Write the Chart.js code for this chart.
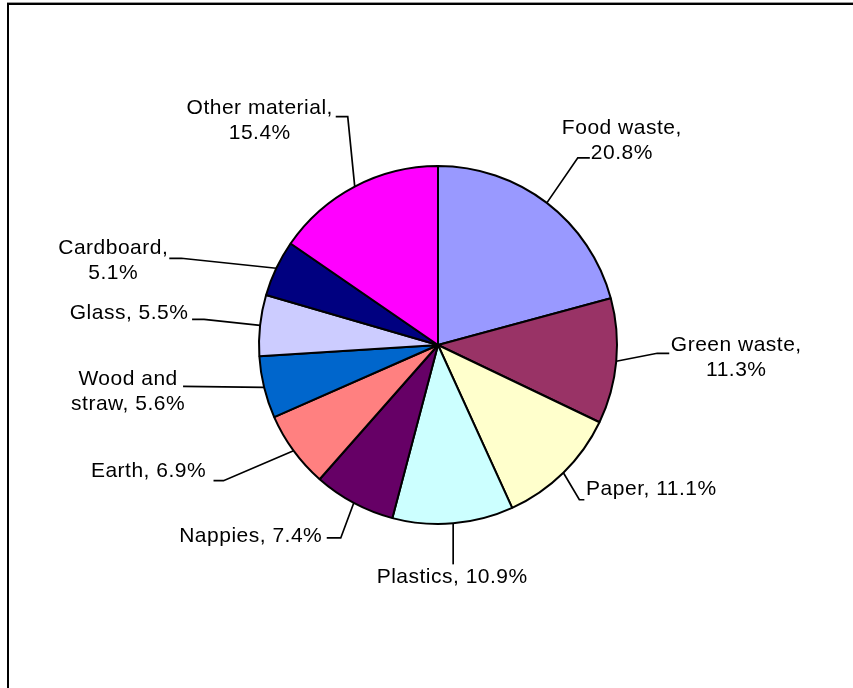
<!DOCTYPE html>
<html>
<head>
    <title>Waste composition</title>
    <style>
        html, body { margin: 0; padding: 0; background: #fff; }
        #chart-container { width: 853px; height: 688px; position: relative; }
        canvas { width: 100% !important; height: 100% !important; }
    </style>
</head>
<body>
    <div id="chart-container">
        <canvas id="myChart"></canvas>
    </div>

    <script src="https://cdn.jsdelivr.net/npm/chart.js"></script>
    <script>
        // Данные (по часовой стрелке от 12 часов)
        const categories = ['Food waste', 'Green waste', 'Paper', 'Plastics', 'Nappies',
                            'Earth', 'Wood and straw', 'Glass', 'Cardboard', 'Other material'];
        const shares = [20.8, 11.3, 11.1, 10.9, 7.4, 6.9, 5.6, 5.5, 5.1, 15.4];
        const sliceColors = ['#9999FF', '#993366', '#FFFFCC', '#CCFFFF', '#660066',
                             '#FF8080', '#0066CC', '#CCCCFF', '#000080', '#FF00FF'];

        // Раскладка подписей: излом выноски и центр текста относительно точки на краю сектора
        const labelLayout = [
            { elbow: [31, -45], tail: 12,  text: [75, -62],   wrap: 'comma' },
            { elbow: [41, -8],  tail: 12,  text: [120, -4],   wrap: 'comma' },
            { elbow: [16, 27],  tail: 5,   text: [88, 16],    wrap: 'none' },
            { elbow: [0, 41],   tail: 0,   text: [-1, 54],    wrap: 'none' },
            { elbow: [-13, 35], tail: -14, text: [-103, 33],  wrap: 'none' },
            { elbow: [-70, 30], tail: -10, text: [-145, 21],  wrap: 'none' },
            { elbow: [-81, -1], tail: 0,   text: [-136, 4],   wrap: 'word2' },
            { elbow: [-56, -6], tail: -12, text: [-131, -12], wrap: 'none' },
            { elbow: [-95, -10], tail: -12, text: [-163, -8], wrap: 'comma' },
            { elbow: [-7, -70], tail: -12, text: [-95, -66],  wrap: 'comma' }
        ];

        function labelLines(i) {
            const pct = shares[i].toFixed(1) + '%';
            const name = categories[i];
            const mode = labelLayout[i].wrap;
            if (mode === 'comma') return [name + ',', pct];
            if (mode === 'word2') {
                const w = name.split(' ');
                return [w.slice(0, 2).join(' '), w.slice(2).join(' ') + ', ' + pct];
            }
            return [name + ', ' + pct];
        }

        // Рамка вокруг области графика
        const framePlugin = {
            id: 'frame',
            beforeDraw(chart) {
                const c = chart.ctx;
                c.save();
                c.fillStyle = '#fff';
                c.fillRect(0, 0, chart.width, chart.height);
                c.strokeStyle = '#999';
                c.lineWidth = 1;
                c.beginPath();
                c.moveTo(7, 2.5); c.lineTo(chart.width, 2.5);
                c.stroke();
                c.strokeStyle = '#000';
                c.lineWidth = 2;
                c.beginPath();
                c.moveTo(chart.width, 4); c.lineTo(8, 4); c.lineTo(8, chart.height);
                c.stroke();
                c.restore();
            }
        };

        // Подписи с выносками
        const labelPlugin = {
            id: 'pieLabels',
            afterDraw(chart) {
                const c = chart.ctx;
                const arcs = chart.getDatasetMeta(0).data;
                c.save();
                c.font = '21px "Liberation Sans", Arial, sans-serif';
                if ('letterSpacing' in c) c.letterSpacing = '0.5px';
                c.fillStyle = '#000';
                c.strokeStyle = '#000';
                c.lineWidth = 1.7;
                c.textAlign = 'center';
                c.textBaseline = 'middle';
                arcs.forEach((arc, i) => {
                    const p = arc.getProps(['x', 'y', 'startAngle', 'endAngle', 'outerRadius'], true);
                    const mid = (p.startAngle + p.endAngle) / 2;
                    const ex = p.x + Math.cos(mid) * p.outerRadius;
                    const ey = p.y + Math.sin(mid) * p.outerRadius;
                    const L = labelLayout[i];
                    const bx = ex + L.elbow[0], by = ey + L.elbow[1];
                    c.beginPath();
                    c.moveTo(ex, ey);
                    c.lineTo(bx, by);
                    if (L.tail) c.lineTo(bx + L.tail, by);
                    c.stroke();
                    const lines = labelLines(i);
                    const tx = ex + L.text[0], ty = ey + L.text[1];
                    const lh = 25;
                    lines.forEach((t, k) => {
                        c.fillText(t, tx, ty + (k - (lines.length - 1) / 2) * lh);
                    });
                });
                c.restore();
            }
        };

        const ctx = document.getElementById('myChart').getContext('2d');
        const myChart = new Chart(ctx, {
            type: 'pie',
            data: {
                labels: categories,
                datasets: [{
                    data: shares,
                    backgroundColor: sliceColors,
                    borderColor: '#000',
                    borderWidth: 2
                }]
            },
            options: {
                responsive: true,
                maintainAspectRatio: false,
                animation: false,
                layout: { padding: { top: 165, bottom: 163, left: 258, right: 235 } },
                plugins: {
                    legend: { display: false },
                    tooltip: { enabled: false }
                }
            },
            plugins: [framePlugin, labelPlugin]
        });
    </script>
</body>
</html>
